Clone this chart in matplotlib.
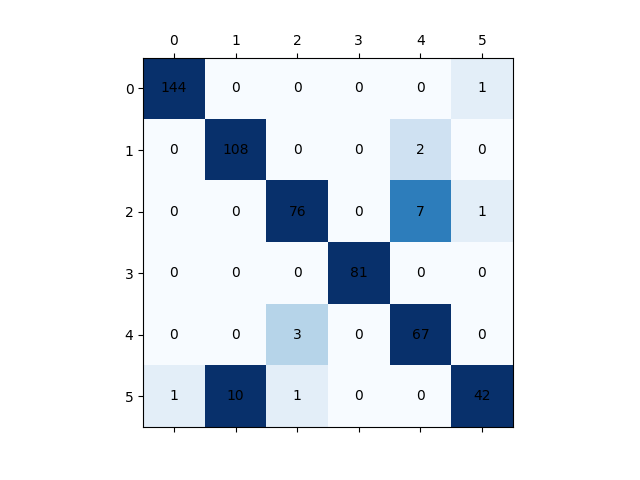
import numpy as np
import matplotlib.pyplot as plt

# confusion matrix values
labels = [0, 1, 2, 3, 4, 5]
cm = np.array([
    [144, 0, 0, 0, 0, 1],
    [0, 108, 0, 0, 2, 0],
    [0, 0, 76, 0, 7, 1],
    [0, 0, 0, 81, 0, 0],
    [0, 0, 3, 0, 67, 0],
    [1, 10, 1, 0, 0, 42],
])

fig, ax = plt.subplots(figsize=(6.4, 4.8), dpi=100)
ax.matshow(cm, cmap='Blues', vmin=0, vmax=10)

for i in range(cm.shape[0]):
    for j in range(cm.shape[1]):
        ax.text(j, i, str(cm[i, j]), ha='center', va='center', color='black')

ax.set_xticks(range(len(labels)))
ax.set_yticks(range(len(labels)))
ax.set_xticklabels(labels)
ax.set_yticklabels(labels)

plt.savefig('out.png')
